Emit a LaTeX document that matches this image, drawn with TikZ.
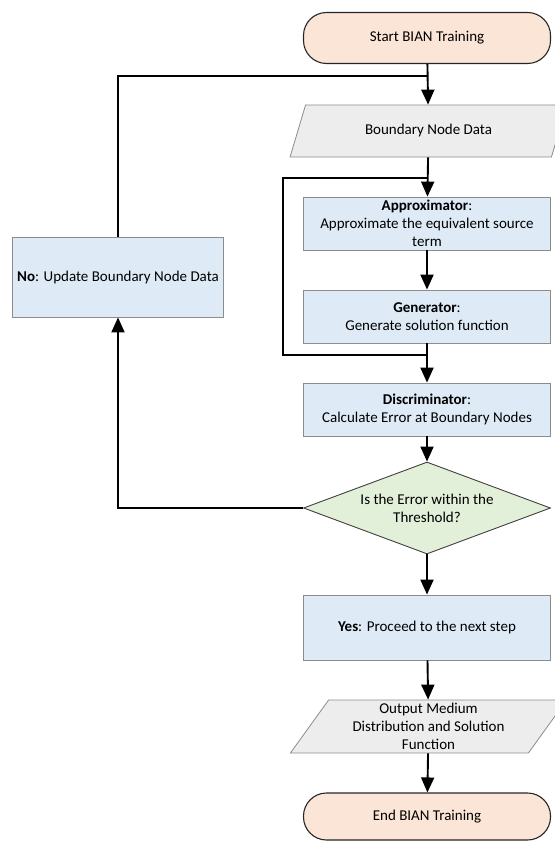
\documentclass[tikz,border=0pt]{standalone}
\usepackage{fontspec}
\setmainfont{Carlito}
\usetikzlibrary{shapes.geometric, arrows.meta}
\definecolor{mypeach}{HTML}{FBE5D6}
\definecolor{myblue}{HTML}{DEEBF7}
\definecolor{mygray}{HTML}{EDEDED}
\definecolor{mygreen}{HTML}{E2F0D9}
\colorlet{myedge}{black!45}
\tikzset{>={Triangle[length=15pt,width=13pt]}}

\begin{document}
\begin{tikzpicture}[x=1pt, y=-1pt,
                line join=miter,
                every node/.style={font=\fontsize{15}{18}\selectfont, align=center},
                terminal/.style={draw=black!85, line width=1.1pt, fill=mypeach,
                    rounded corners=23pt, minimum width=247pt, inner sep=0pt},
                process/.style={draw=myedge, line width=0.8pt, fill=myblue,
                    minimum width=247pt, minimum height=53pt, inner sep=0pt},
                data/.style={trapezium, trapezium left angle=58, trapezium right angle=122,
                    trapezium stretches=true, draw=myedge, line width=0.8pt, fill=mygray,
                    minimum width=277pt, minimum height=52pt, inner sep=0pt},
                decision/.style={diamond, draw=black!75, line width=0.9pt, fill=mygreen,
                    aspect=2.7, inner sep=0pt, minimum width=247pt, minimum height=92pt},
                flow/.style={line width=1.9pt, ->},
                link/.style={line width=1.9pt}]
                \useasboundingbox (0,0) rectangle (554,842);
                \def\xm{427} % main column
                \def\xl{118} % outer loop
                \def\xi{283} % inner loop

                % main column
                \node[terminal, minimum height=51pt] (start) at (\xm,38) {Start BIAN Training};
                \node[data] (bnd) at (\xm+1.5,131) {Boundary Node Data};
                \node[process] (approx) at (\xm,223.5) {\textbf{Approximator}:\\Approximate the equivalent source\\term};
                \node[process] (gen) at (\xm,316.5) {\textbf{Generator}:\\Generate solution function};
                \node[process] (disc) at (\xm,409.5) {\textbf{Discriminator}:\\Calculate Error at Boundary Nodes};
                \node[decision] (check) at (\xm,508) {Is the Error within the\\Threshold?};
                \node[process, minimum height=65pt] (yes) at (\xm,627.5) {\textbf{Yes}: Proceed to the next step};
                \node[data, minimum height=53pt] (out) at (\xm+1.5,726.5) {Output Medium\\Distribution and Solution\\Function};
                \node[terminal, minimum height=47pt] (finish) at (\xm,816.5) {End BIAN Training};

                % side box
                \node[process, minimum width=211pt, minimum height=80pt] (update) at (\xl,277) {\textbf{No}: Update Boundary Node Data};

                % joints
                \coordinate (j1) at (\xm,76);
                \coordinate (j2) at (\xm,178);
                \coordinate (j3) at (\xm,355);

                % arrows
                \draw[flow] (start) -- (bnd);
                \draw[flow] (bnd) -- (approx);
                \draw[flow] (approx) -- (gen);
                \draw[flow] (gen) -- (disc);
                \draw[flow] (disc) -- (check);
                \draw[flow] (check) -- (yes);
                \draw[flow] (yes) -- (out);
                \draw[flow] (out) -- (finish);
                \draw[flow] (check.west) -| (update.south);

                % loops
                \draw[link] (update.north) |- (j1);
                \draw[link] (j3) -- (\xi,355) -- (\xi,178) -- (j2);

            \end{tikzpicture}
\end{document}
